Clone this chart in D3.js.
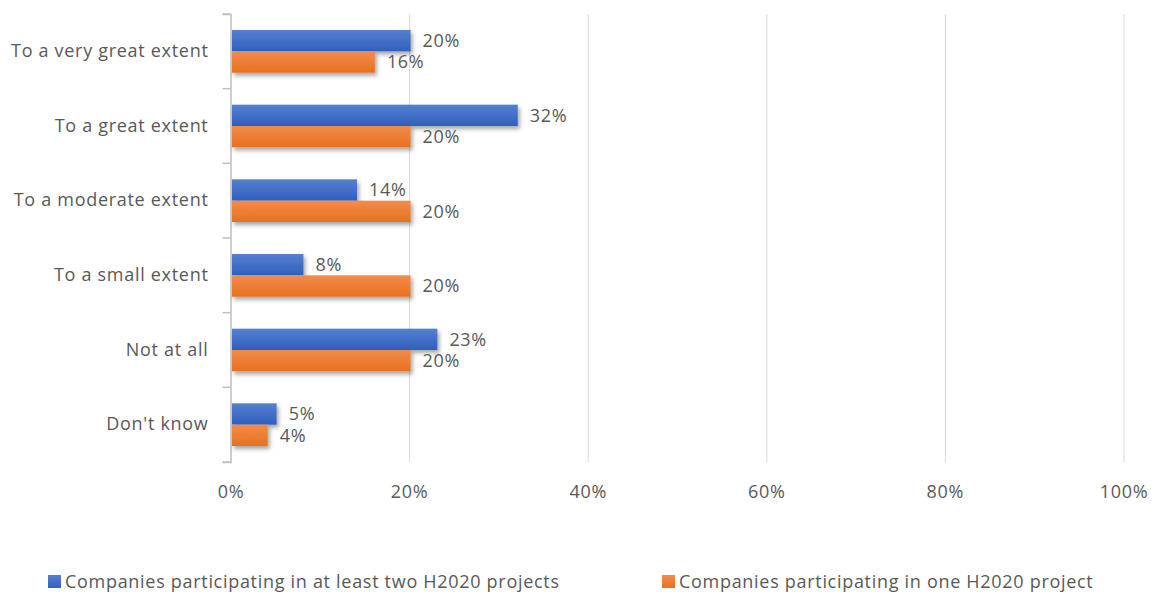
<!DOCTYPE html>
<html>
<head>
<meta charset="utf-8">
<script src="https://cdn.jsdelivr.net/npm/d3@7"></script>
<style>
  html, body { margin: 0; padding: 0; background: #ffffff; }
  svg text { font-family: "Open Sans", "Noto Sans", sans-serif; fill: #595959; letter-spacing: 0.7px; }
</style>
</head>
<body>
<svg id="chart" width="1154" height="592"></svg>
<script>
// Survey answer categories (top to bottom)
const categories = [
  "To a very great extent",
  "To a great extent",
  "To a moderate extent",
  "To a small extent",
  "Not at all",
  "Don't know"
];
// Share of respondents, percent
const twoOrMore = [20, 32, 14, 8, 23, 5];
const oneProject = [16, 20, 20, 20, 20, 4];
const seriesNames = [
  "Companies participating in at least two H2020 projects",
  "Companies participating in one H2020 project"
];
const xTicks = [0, 20, 40, 60, 80, 100];

const svg = d3.select("#chart");
const margin = { left: 231, top: 14 };

const x = d3.scaleLinear().domain([0, 100]).range([margin.left, 1124]);
const y = d3.scaleBand().domain(categories).range([margin.top, 462]);
const inner = d3.scaleBand().domain([0, 1]).range([16, y.bandwidth() - 16]);

const defs = svg.append("defs");
function grad(id, top, bottom) {
  const g = defs.append("linearGradient").attr("id", id)
    .attr("x1", 0).attr("y1", 0).attr("x2", 0).attr("y2", 1);
  g.append("stop").attr("offset", "0%").attr("stop-color", top);
  g.append("stop").attr("offset", "100%").attr("stop-color", bottom);
}
grad("gBlue", "#5580d0", "#2f5fbf");
grad("gOrange", "#f28c4c", "#e8711d");
const f = defs.append("filter").attr("id", "shadow")
  .attr("x", "-10%").attr("y", "-30%").attr("width", "130%").attr("height", "180%");
f.append("feDropShadow").attr("dx", 2).attr("dy", 3).attr("stdDeviation", 2)
  .attr("flood-color", "#000").attr("flood-opacity", 0.35);

// vertical gridlines
svg.append("g").selectAll("line").data(xTicks.filter(d => d > 0)).join("line")
  .attr("x1", d => x(d)).attr("x2", d => x(d))
  .attr("y1", margin.top).attr("y2", 462)
  .attr("stroke", "#d9d9d9").attr("stroke-width", 1);

// x tick labels
svg.append("g").selectAll("text").data(xTicks).join("text")
  .attr("x", d => x(d)).attr("y", 498)
  .attr("text-anchor", "middle").attr("font-size", 18)
  .text(d => d + "%");

// category axis
const yAxis = d3.axisLeft(y).tickSize(8).tickSizeOuter(8).tickPadding(14);
const gy = svg.append("g").attr("transform", `translate(${margin.left - 0.5},0)`).call(yAxis);
gy.select(".domain").attr("stroke", "#bfbfbf").attr("stroke-width", 1.5);
gy.selectAll(".tick line").attr("stroke", "#bfbfbf").attr("stroke-width", 1.5)
  .attr("transform", `translate(0,${-y.bandwidth() / 2})`);
gy.selectAll(".tick text").attr("font-size", 18).attr("fill", "#595959")
  .attr("font-family", "Open Sans, Noto Sans, sans-serif").attr("x", -22);
// closing tick at bottom
gy.append("line").attr("x1", -8).attr("x2", 0).attr("y1", 462).attr("y2", 462)
  .attr("stroke", "#bfbfbf").attr("stroke-width", 1.5);

const series = [
  { name: seriesNames[0], values: twoOrMore, fill: "url(#gBlue)" },
  { name: seriesNames[1], values: oneProject, fill: "url(#gOrange)" }
];

series.forEach((s, si) => {
  const g = svg.append("g");
  g.selectAll("rect").data(categories).join("rect")
    .attr("x", x(0) + 1)
    .attr("y", c => y(c) + inner(si))
    .attr("width", (c, i) => x(s.values[i]) - x(0))
    .attr("height", inner.bandwidth())
    .attr("fill", s.fill)
    .attr("filter", "url(#shadow)");
  g.selectAll("text").data(categories).join("text")
    .attr("x", (c, i) => x(s.values[i]) + 13)
    .attr("y", c => y(c) + inner(si) + inner.bandwidth() / 2)
    .attr("dy", "0.35em")
    .attr("font-size", 18)
    .text((c, i) => s.values[i] + "%");
});

// legend
const legendX = [48, 662];
series.forEach((s, i) => {
  const lg = svg.append("g").attr("transform", `translate(${legendX[i]},582)`);
  lg.append("rect").attr("x", 0).attr("y", -7).attr("width", 13).attr("height", 13).attr("fill", s.fill);
  lg.append("text").attr("x", 17).attr("y", 0).attr("dy", "0.35em")
    .attr("font-size", 18).text(s.name);
});
</script>
</body>
</html>
